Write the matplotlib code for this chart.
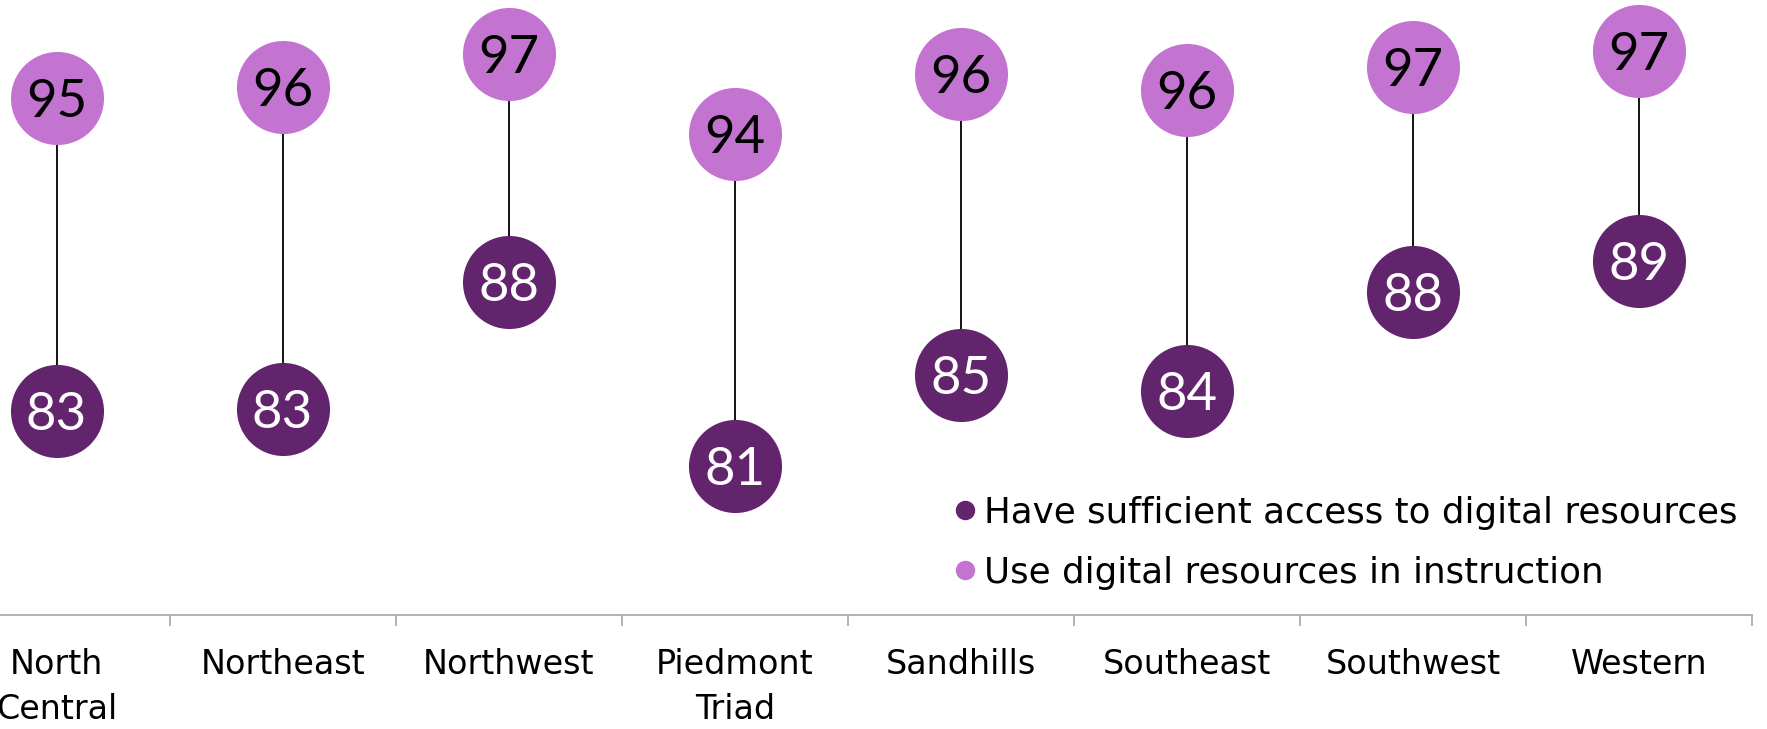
import matplotlib
matplotlib.use("Agg")
import matplotlib.pyplot as plt
from matplotlib.lines import Line2D

# ---- data ----
regions = ["North\nCentral", "Northeast", "Northwest", "Piedmont\nTriad",
           "Sandhills", "Southeast", "Southwest", "Western"]
use_digital = [95.4, 95.8, 97.1, 94.0, 96.3, 95.7, 96.6, 97.2]
sufficient_access = [83.3, 83.4, 88.3, 81.2, 84.7, 84.1, 87.9, 89.1]
series_names = ["Have sufficient access to digital resources",
                "Use digital resources in instruction"]

dark = "#63246E"
light = "#C373D0"
NUM_FONT = "Lato"
TXT_FONT = "DejaVu Sans"

fig = plt.figure(figsize=(17.67, 7.29), dpi=100)
ax = fig.add_axes([0, 114 / 729, 1752 / 1767, 615 / 729])
ax.set_xlim(-0.25, 7.5)
ax.set_ylim(75.44, 99.17)

x = list(range(len(regions)))
ax.vlines(x, sufficient_access, use_digital, color="black", lw=1.3, zorder=1)
ms = 67
ax.scatter(x, use_digital, s=ms ** 2, color=light, zorder=3, clip_on=False, linewidths=0)
ax.scatter(x, sufficient_access, s=ms ** 2, color=dark, zorder=3, clip_on=False, linewidths=0)

for xi, v in zip(x, use_digital):
    ax.text(xi, v, f"{int(v + 0.5)}", ha="center", va="center_baseline",
            fontsize=38, color="black", family=NUM_FONT, zorder=4)
for xi, v in zip(x, sufficient_access):
    ax.text(xi, v, f"{int(v + 0.5)}", ha="center", va="center_baseline",
            fontsize=38, color="white", family=NUM_FONT, zorder=4)

for s in ["top", "left", "right"]:
    ax.spines[s].set_visible(False)
ax.spines["bottom"].set_color("#A6A6A6")
ax.spines["bottom"].set_linewidth(1.2)
ax.set_yticks([])
ax.set_xticks([i + 0.5 for i in range(len(regions))])
ax.set_xticklabels([])
ax.tick_params(axis="x", which="major", length=8, width=1.2, color="#A6A6A6", direction="out")
ax.set_xticks(x, minor=True)
ax.set_xticklabels(regions, minor=True, fontsize=24, family=TXT_FONT, linespacing=1.45)
ax.tick_params(axis="x", which="minor", length=0, pad=24)

handles = [Line2D([], [], marker="o", ls="none", color=dark, markersize=13),
           Line2D([], [], marker="o", ls="none", color=light, markersize=13)]
leg = ax.legend(handles, series_names, loc="upper left",
                bbox_to_anchor=(930 / 1767, 1 - 478 / 729), bbox_transform=fig.transFigure,
                frameon=False, prop={"family": TXT_FONT, "size": 25.7},
                handletextpad=0.05, labelspacing=0.72, handlelength=0.95, borderpad=0)

fig.savefig("out.png", dpi=100)
